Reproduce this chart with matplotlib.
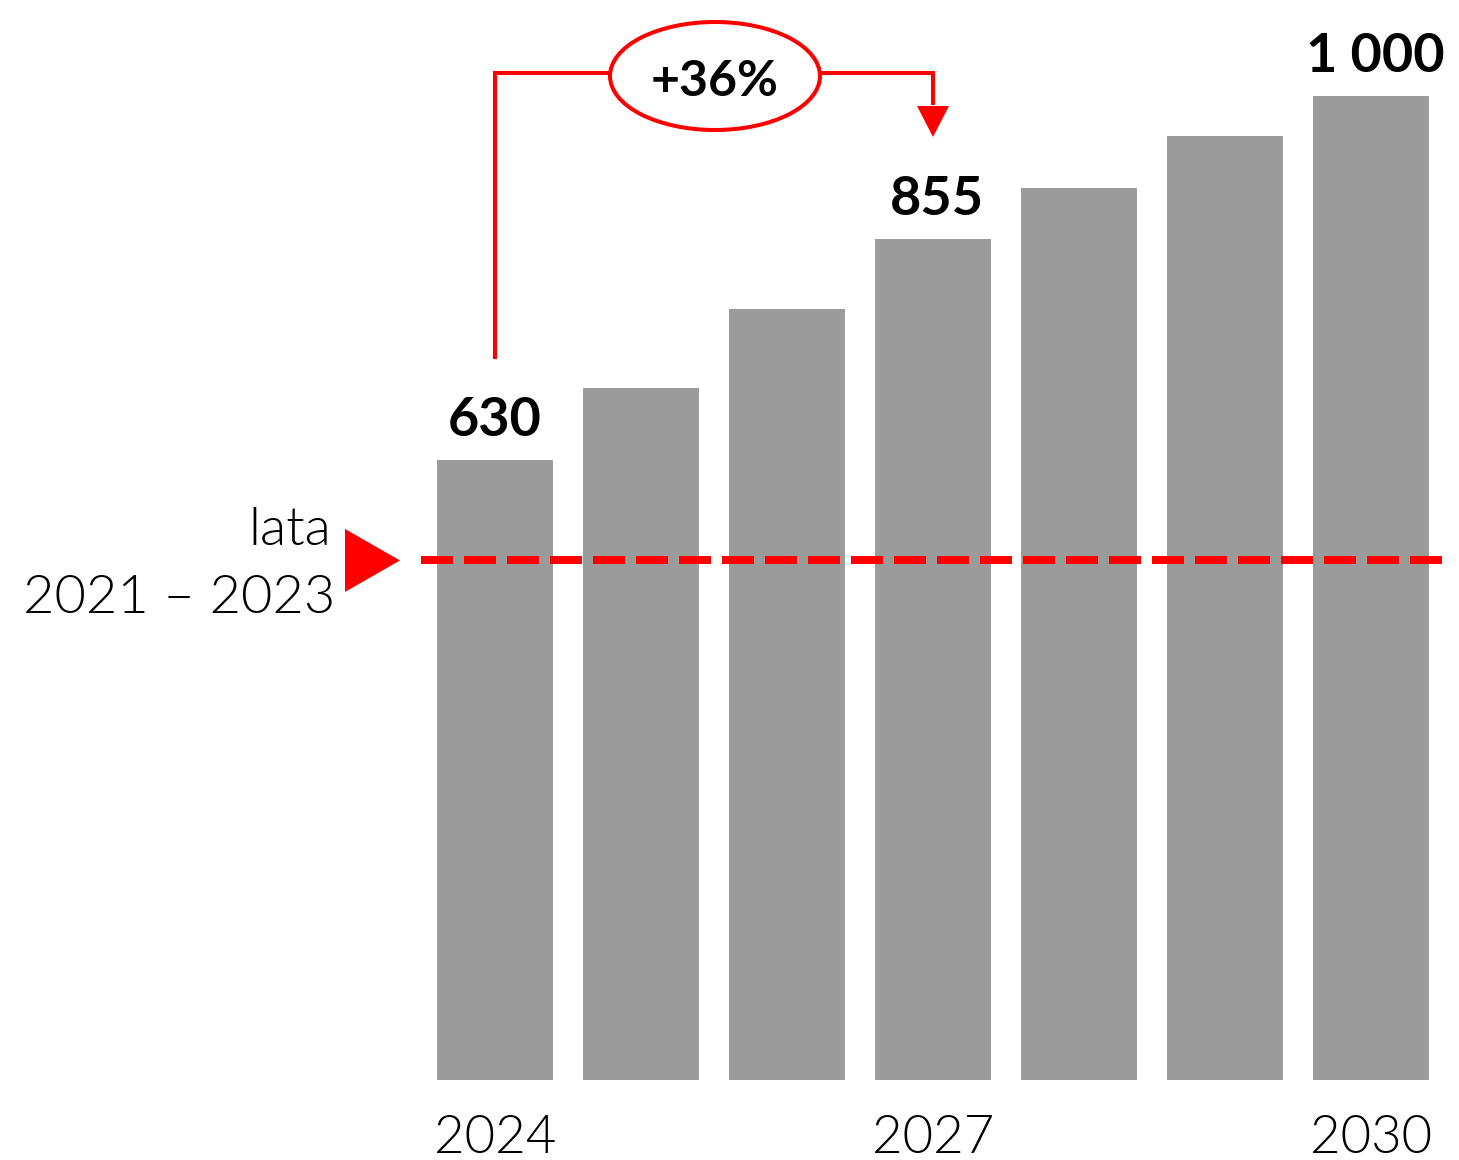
import matplotlib
matplotlib.use("Agg")
import matplotlib.pyplot as plt
from matplotlib.patches import Ellipse, Polygon

# ---- data ----
years = [2024, 2025, 2026, 2027, 2028, 2029, 2030]
values = [630, 703, 784, 855, 906, 959, 1000]
tick_years = [2024, 2027, 2030]
value_labels = {2024: "630", 2027: "855", 2030: "1 000"}
baseline_value = 528
baseline_label = ["lata", "2021 – 2023"]
change_label = "+36%"
change_from, change_to = 2024, 2027

RED = "#FF0000"
GRAY = "#9B9B9B"
plt.rcParams['font.family'] = ['Lato', 'DejaVu Sans']
LIGHT = 300

W, H = 1459, 1160
fig = plt.figure(figsize=(W / 100, H / 100), dpi=100)
# axes: bottom at pixel 1080, top at pixel 0
ax = fig.add_axes([0, 80 / H, 1, 1080 / H])
px_per_unit_x = 146.0
px_per_val = 0.984
x0_px = 495.0
ax.set_xlim(-x0_px / px_per_unit_x, (W - x0_px) / px_per_unit_x)
ax.set_ylim(0, 1080 / px_per_val)
for s in ax.spines.values():
    s.set_visible(False)
ax.set_yticks([])

xs = list(range(len(years)))
ax.bar(xs, values, width=0.8, color=GRAY, zorder=1)

# ticks
ax.set_xticks([years.index(y) for y in tick_years])
ax.set_xticklabels([str(y) for y in tick_years], fontsize=38, fontweight=LIGHT,
                   color='black')
ax.tick_params(axis='x', length=0, pad=25)

# value labels
for y, lab in value_labels.items():
    i = years.index(y)
    ax.text(i + (4 / px_per_unit_x if i > 0 else 0), values[i] + 24 / px_per_val, lab,
            ha='center', va='baseline',
            fontsize=39, fontweight='bold', color='black', zorder=5)

# baseline dashed line
ax.plot([(421 - x0_px) / px_per_unit_x, (1444 - x0_px) / px_per_unit_x],
        [baseline_value, baseline_value], color=RED, lw=5.76,
        dashes=(32 / 8, 11 / 8), solid_capstyle='butt', dash_capstyle='butt', zorder=3)

# triangle marker
tx_tip = (400 - x0_px) / px_per_unit_x
tx_back = (345 - x0_px) / px_per_unit_x
half_h = 31.5 / px_per_val
ax.add_patch(Polygon([[tx_back, baseline_value + half_h], [tx_tip, baseline_value],
                      [tx_back, baseline_value - half_h]], closed=True,
                     facecolor=RED, edgecolor='none', clip_on=False, zorder=4))

# baseline label (two lines, baselines at px 545 and 613)
lab_x = (335 - x0_px) / px_per_unit_x
ax.text(lab_x - 4 / px_per_unit_x, baseline_value + (560 - 545) / px_per_val, baseline_label[0],
        ha='right', va='baseline', fontsize=39, fontweight=LIGHT, color='black')
ax.text(lab_x, baseline_value - (613 - 560) / px_per_val, baseline_label[1],
        ha='right', va='baseline', fontsize=39, fontweight=LIGHT, color='black')

# change annotation
i0 = years.index(change_from)
i1 = years.index(change_to)
top_y = (1080 - 73) / px_per_val
start_y = values[i0] + (460 - 359) / px_per_val
ell_cx = (715 - x0_px) / px_per_unit_x
ell_w = 210 / px_per_unit_x
ell_h = 108 / px_per_val
ell_cy = (1080 - 76) / px_per_val
lw = 2.9
ax.plot([i0, i0, ell_cx - ell_w / 2], [start_y, top_y, top_y], color=RED, lw=lw,
        solid_joinstyle='miter', solid_capstyle='butt', clip_on=False, zorder=4)
head_top = (1080 - 106) / px_per_val
head_tip = (1080 - 137) / px_per_val
ax.plot([ell_cx + ell_w / 2, i1, i1], [top_y, top_y, head_top + 1], color=RED, lw=lw,
        solid_joinstyle='miter', solid_capstyle='butt', clip_on=False, zorder=4)
hw = 16 / px_per_unit_x
ax.add_patch(Polygon([[i1 - hw, head_top], [i1 + hw, head_top], [i1, head_tip]],
                     closed=True, facecolor=RED, edgecolor='none', clip_on=False, zorder=4))
ax.add_patch(Ellipse((ell_cx, ell_cy), ell_w, ell_h, facecolor='white', edgecolor=RED,
                     lw=lw, clip_on=False, zorder=5))
ax.text(ell_cx, (1080 - 96) / px_per_val, change_label, ha='center', va='baseline',
        fontsize=36, fontweight='bold', color='black', zorder=6)

fig.savefig("out.png", dpi=100)
